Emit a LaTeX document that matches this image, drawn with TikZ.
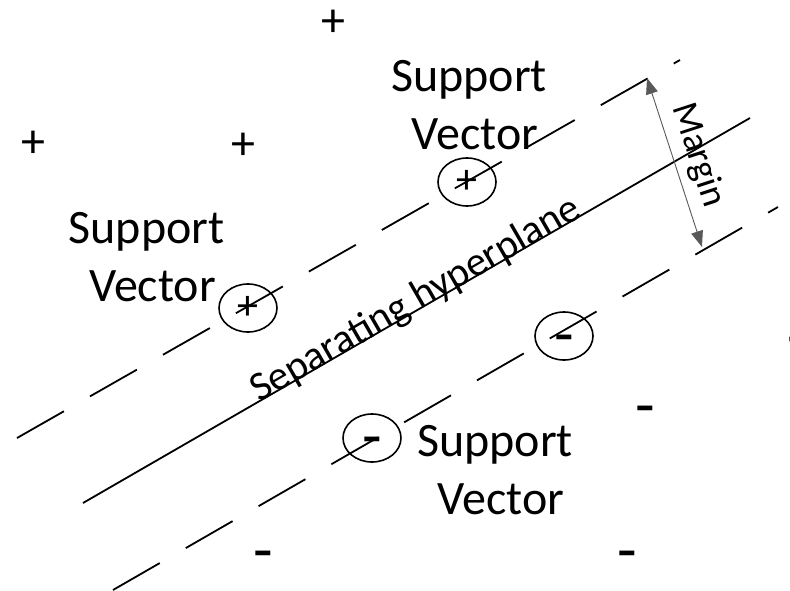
\documentclass[tikz,border=0pt]{standalone}
\usepackage{fontspec}
\setmainfont{Carlito}
\usetikzlibrary{arrows.meta,shapes.geometric}
\begin{document}
\begin{tikzpicture}[x=1pt,y=-1pt,
  lbl/.style={font=\fontsize{48}{58}\selectfont, align=center, inner sep=0pt, anchor=north},
  plus/.style={font=\fontsize{48}{58}\selectfont, inner sep=0pt},
  minus/.style={font=\fontsize{64}{70}\selectfont, inner sep=0pt, yshift=-9pt},
  sv/.style={ellipse, draw, line width=1.6pt, minimum width=58pt, minimum height=48pt, inner sep=0pt},
  bound/.style={line width=1.8pt, dash pattern=on 54pt off 30pt},
  plane/.style={line width=1.8pt},
  margin/.style={draw=gray!70!black, line width=0.9pt,
    {Triangle[length=16pt,width=12pt]}-{Triangle[length=16pt,width=12pt]}}]
\clip (0,0) rectangle (790,591);
\fill[white] (0,0) rectangle (790,591);

% end points of the two margin boundaries and the hyperplane
\coordinate (ua) at (17,438);  \coordinate (ub) at (680,60);
\coordinate (la) at (113,590); \coordinate (lb) at (778,207);
\coordinate (ha) at (83,503);  \coordinate (hb) at (750,118);
% ends of the margin arrow
\coordinate (mt) at (647,78);  \coordinate (mb) at (702,247);

% support vectors (rings) and their class signs
\node[sv] (sv1) at (248,308) {};
\node[sv] (sv2) at (467,182) {};
\node[sv] (sv3) at (372,438) {};
\node[sv] (sv4) at (564,336) {};
\node[plus, font=\fontsize{42}{50}\selectfont] (s1) at (sv1.center) {+};
\node[plus, font=\fontsize{42}{50}\selectfont] (s2) at (sv2.center) {+};
\node[minus] (s3) at (sv3.center) {-};
\node[minus] (s4) at (sv4.center) {-};

% boundaries and hyperplane
\draw[bound] (ua) -- (ub);
\draw[bound] (la) -- (lb);
\draw[plane] (ha) -- (hb);
\draw[margin] (mt) -- (mb);

% other samples
\node[plus] (p1) at (333,23) {+};
\node[plus] (p2) at (33,144) {+};
\node[plus] (p3) at (243,146) {+};
\node[minus] (m1) at (645,407) {-};
\node[minus] (m2) at (627,552) {-};
\node[minus] (m3) at (263,552) {-};
\node[minus] (m4) at (797,338) {-};

% labels
\node[lbl] (t1) at (469,60) {Support\\\hspace*{12pt}Vector};
\node[lbl] (t2) at (146.5,212) {Support\\\hspace*{12pt}Vector};
\node[lbl] (t3) at (495,425) {Support\\\hspace*{12pt}Vector};
\node[font=\fontsize{41}{48}\selectfont, inner sep=0pt, anchor=base west, rotate=30] (sh) at (259,403) {Separating hyperplane};
\node[font=\fontsize{37}{42}\selectfont, inner sep=0pt, rotate=-72] (mg) at (698,155) {Margin};
\end{tikzpicture}
\end{document}
